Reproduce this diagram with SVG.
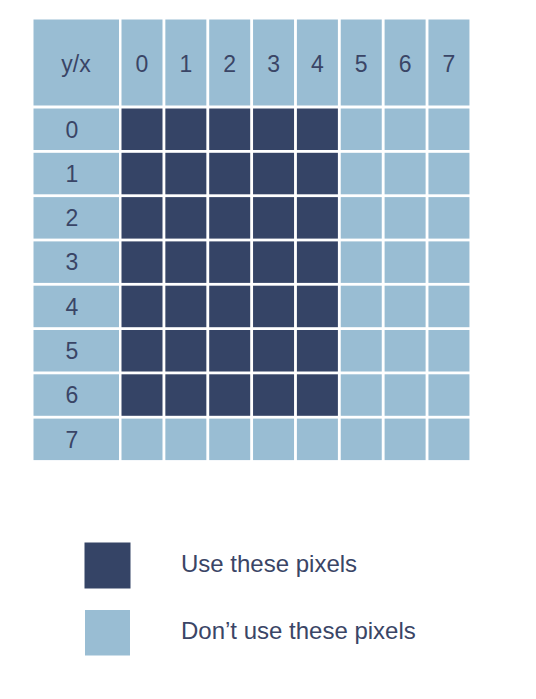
<svg xmlns="http://www.w3.org/2000/svg" width="536" height="699" viewBox="0 0 536 699">
<style>
.l{fill:#99bdd3}
.d{fill:#354466}
text{font-family:"Liberation Sans",Arial,sans-serif;font-size:23px;fill:#3a4566;text-anchor:middle}
.lg{text-anchor:start;font-size:24px}
</style>
<rect width="536" height="699" fill="#fff"/>
<g id="header">
<rect class="l" x="33.5" y="19.5" width="85.5" height="86"/>
<text x="76" y="71.5">y/x</text>
<rect class="l" x="121.5" y="19.5" width="41" height="86"/><text x="142" y="71.5">0</text>
<rect class="l" x="165.35" y="19.5" width="41" height="86"/><text x="185.85" y="71.5">1</text>
<rect class="l" x="209.2" y="19.5" width="41" height="86"/><text x="229.7" y="71.5">2</text>
<rect class="l" x="253.05" y="19.5" width="41" height="86"/><text x="273.55" y="71.5">3</text>
<rect class="l" x="296.9" y="19.5" width="41" height="86"/><text x="317.4" y="71.5">4</text>
<rect class="l" x="340.75" y="19.5" width="41" height="86"/><text x="361.25" y="71.5">5</text>
<rect class="l" x="384.6" y="19.5" width="41" height="86"/><text x="405.1" y="71.5">6</text>
<rect class="l" x="428.45" y="19.5" width="41" height="86"/><text x="448.95" y="71.5">7</text>
</g>
<g id="row0" transform="translate(0,108.5)">
<rect class="l" x="33.5" width="85.5" height="41.5"/><text x="72" y="29">0</text>
<rect class="d" x="121.5" width="41" height="41.5"/><rect class="d" x="165.35" width="41" height="41.5"/><rect class="d" x="209.2" width="41" height="41.5"/><rect class="d" x="253.05" width="41" height="41.5"/><rect class="d" x="296.9" width="41" height="41.5"/>
<rect class="l" x="340.75" width="41" height="41.5"/><rect class="l" x="384.6" width="41" height="41.5"/><rect class="l" x="428.45" width="41" height="41.5"/>
</g>
<g id="row1" transform="translate(0,152.8)">
<rect class="l" x="33.5" width="85.5" height="41.5"/><text x="72" y="29">1</text>
<rect class="d" x="121.5" width="41" height="41.5"/><rect class="d" x="165.35" width="41" height="41.5"/><rect class="d" x="209.2" width="41" height="41.5"/><rect class="d" x="253.05" width="41" height="41.5"/><rect class="d" x="296.9" width="41" height="41.5"/>
<rect class="l" x="340.75" width="41" height="41.5"/><rect class="l" x="384.6" width="41" height="41.5"/><rect class="l" x="428.45" width="41" height="41.5"/>
</g>
<g id="row2" transform="translate(0,197.1)">
<rect class="l" x="33.5" width="85.5" height="41.5"/><text x="72" y="29">2</text>
<rect class="d" x="121.5" width="41" height="41.5"/><rect class="d" x="165.35" width="41" height="41.5"/><rect class="d" x="209.2" width="41" height="41.5"/><rect class="d" x="253.05" width="41" height="41.5"/><rect class="d" x="296.9" width="41" height="41.5"/>
<rect class="l" x="340.75" width="41" height="41.5"/><rect class="l" x="384.6" width="41" height="41.5"/><rect class="l" x="428.45" width="41" height="41.5"/>
</g>
<g id="row3" transform="translate(0,241.4)">
<rect class="l" x="33.5" width="85.5" height="41.5"/><text x="72" y="29">3</text>
<rect class="d" x="121.5" width="41" height="41.5"/><rect class="d" x="165.35" width="41" height="41.5"/><rect class="d" x="209.2" width="41" height="41.5"/><rect class="d" x="253.05" width="41" height="41.5"/><rect class="d" x="296.9" width="41" height="41.5"/>
<rect class="l" x="340.75" width="41" height="41.5"/><rect class="l" x="384.6" width="41" height="41.5"/><rect class="l" x="428.45" width="41" height="41.5"/>
</g>
<g id="row4" transform="translate(0,285.7)">
<rect class="l" x="33.5" width="85.5" height="41.5"/><text x="72" y="29">4</text>
<rect class="d" x="121.5" width="41" height="41.5"/><rect class="d" x="165.35" width="41" height="41.5"/><rect class="d" x="209.2" width="41" height="41.5"/><rect class="d" x="253.05" width="41" height="41.5"/><rect class="d" x="296.9" width="41" height="41.5"/>
<rect class="l" x="340.75" width="41" height="41.5"/><rect class="l" x="384.6" width="41" height="41.5"/><rect class="l" x="428.45" width="41" height="41.5"/>
</g>
<g id="row5" transform="translate(0,330)">
<rect class="l" x="33.5" width="85.5" height="41.5"/><text x="72" y="29">5</text>
<rect class="d" x="121.5" width="41" height="41.5"/><rect class="d" x="165.35" width="41" height="41.5"/><rect class="d" x="209.2" width="41" height="41.5"/><rect class="d" x="253.05" width="41" height="41.5"/><rect class="d" x="296.9" width="41" height="41.5"/>
<rect class="l" x="340.75" width="41" height="41.5"/><rect class="l" x="384.6" width="41" height="41.5"/><rect class="l" x="428.45" width="41" height="41.5"/>
</g>
<g id="row6" transform="translate(0,374.3)">
<rect class="l" x="33.5" width="85.5" height="41.5"/><text x="72" y="29">6</text>
<rect class="d" x="121.5" width="41" height="41.5"/><rect class="d" x="165.35" width="41" height="41.5"/><rect class="d" x="209.2" width="41" height="41.5"/><rect class="d" x="253.05" width="41" height="41.5"/><rect class="d" x="296.9" width="41" height="41.5"/>
<rect class="l" x="340.75" width="41" height="41.5"/><rect class="l" x="384.6" width="41" height="41.5"/><rect class="l" x="428.45" width="41" height="41.5"/>
</g>
<g id="row7" transform="translate(0,418.6)">
<rect class="l" x="33.5" width="85.5" height="41.5"/><text x="72" y="29">7</text>
<rect class="l" x="121.5" width="41" height="41.5"/><rect class="l" x="165.35" width="41" height="41.5"/><rect class="l" x="209.2" width="41" height="41.5"/><rect class="l" x="253.05" width="41" height="41.5"/><rect class="l" x="296.9" width="41" height="41.5"/>
<rect class="l" x="340.75" width="41" height="41.5"/><rect class="l" x="384.6" width="41" height="41.5"/><rect class="l" x="428.45" width="41" height="41.5"/>
</g>
<g id="connectors"/>
<g id="legend-use">
<rect class="d" x="84.5" y="542.5" width="46" height="46"/>
<text class="lg" x="181" y="572">Use these pixels</text>
</g>
<g id="legend-dont">
<rect class="l" x="85" y="610" width="45" height="45.5"/>
<text class="lg" x="181" y="639">Don’t use these pixels</text>
</g>
</svg>
